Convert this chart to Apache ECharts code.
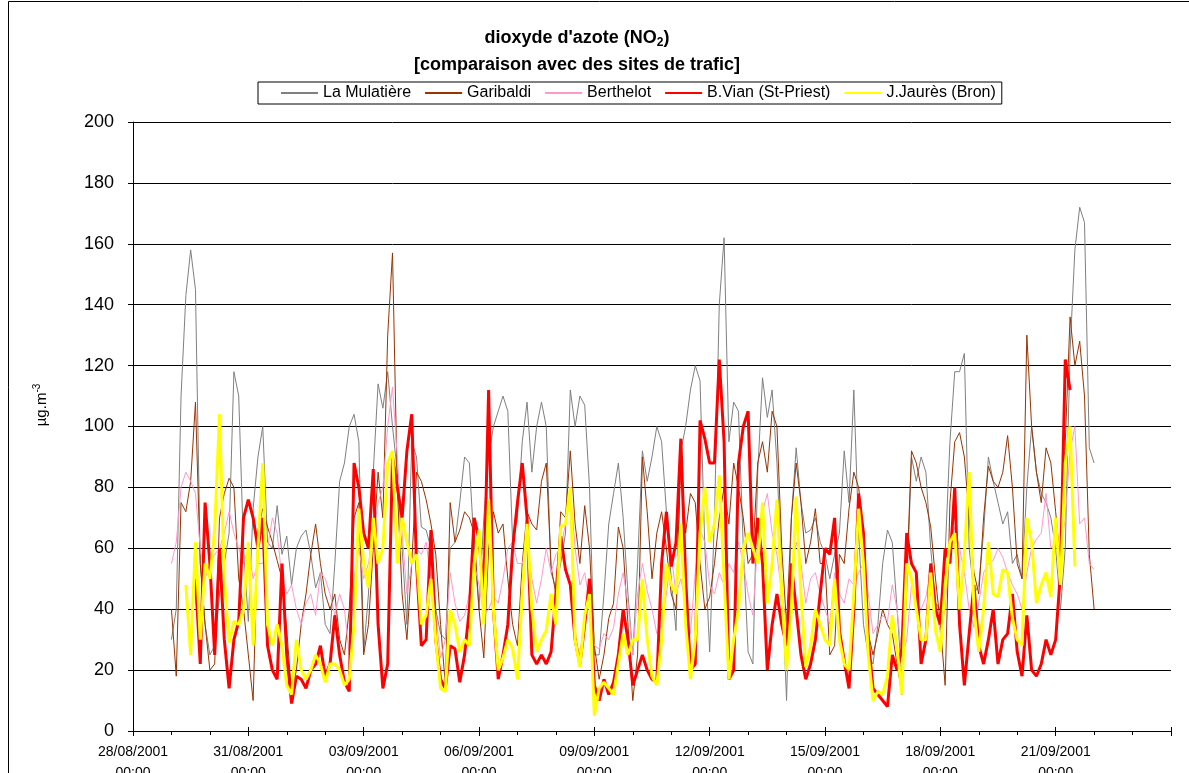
<!DOCTYPE html>
<html>
<head>
<meta charset="utf-8">
<script src="https://cdn.jsdelivr.net/npm/echarts@6/dist/echarts.min.js"></script>
<style>
  html, body { margin: 0; padding: 0; background: #fff; }
  #chart { width: 1189px; height: 773px; }
</style>
</head>
<body>
<div id="chart"></div>
<script>
// 3-hourly readings, first value on 29/08/2001 00:00 (x in hours after 28/08/2001 00:00)
const startHour = 24;
const stepHours = 3;

const tickLabels = ['28/08/2001', '31/08/2001', '03/09/2001', '06/09/2001', '09/09/2001',
  '12/09/2001', '15/09/2001', '18/09/2001', '21/09/2001'];
const seriesNames = ['La Mulatière', 'Garibaldi', 'Berthelot', 'B.Vian (St-Priest)', 'J.Jaurès (Bron)'];

const mulatiere = [
  30, 40, 110, 143, 158, 145, 55, 35, 25, 28, 45, 55, 65, 118, 110, 60, 36, 73, 90, 100,
  62, 60, 74, 58, 64, 48, 60, 64, 66, 58, 47, 52, 35, 32, 55, 82, 88, 100, 104,
  95, 26, 45, 85, 114, 106, 118, 100, 85, 60, 35, 95, 90, 67, 66, 60, 40, 32, 30, 60,
  62, 75, 90, 88, 60, 40, 70, 90, 100, 105, 110, 105, 62, 70, 95, 108, 85, 100, 108,
  100, 52, 47, 55, 65, 112, 100, 110, 107, 80, 25, 25, 45, 68, 78, 88, 70, 45, 25, 55,
  92, 82, 90, 100, 95, 72, 50, 33, 92, 100, 112, 120, 115, 60, 26, 70, 140, 162, 95, 108,
  105, 60, 26, 22, 85, 116, 103, 112, 88, 50, 10, 70, 93, 75, 65, 66, 70, 62, 58, 50,
  58, 65, 92, 75, 112, 65, 35, 25, 22, 35, 55, 66, 62, 40, 17, 45, 90, 82, 90, 85,
  60, 42, 40, 58, 95, 118, 118, 124, 60, 45, 48, 65, 90, 82, 75, 68, 72, 55, 58,
  50, 80, 100, 85, 78, 75, 70, 60, 40, 60, 125, 158, 172, 167, 93, 88
];
const garibaldi = [
  40, 18, 75, 72, 82, 108, 55, 35, 20, 22, 70, 78, 83, 80, 50, 40, 25, 10, 66,
  73, 67, 62, 56, 50, 33, 12, 20, 35, 45, 58, 68, 55, 45, 40, 45, 30, 25, 40, 70,
  75, 25, 35, 60, 85, 70, 130, 157, 80, 45, 30, 55, 85, 82, 76, 68, 58, 35, 15, 75,
  62, 66, 72, 70, 65, 40, 24, 60, 72, 65, 68, 50, 35, 28, 55, 72, 68, 66, 82,
  88, 54, 45, 72, 70, 92, 68, 55, 74, 60, 28, 17, 25, 37, 42, 67, 60, 35, 10, 25,
  90, 72, 50, 65, 72, 60, 45, 40, 90, 65, 78, 75, 55, 40, 44, 55, 70, 80, 68, 88,
  80, 70, 55, 58, 88, 95, 85, 105, 100, 60, 35, 70, 88, 75, 55, 62, 73, 55, 55, 25,
  28, 58, 55, 73, 85, 80, 65, 32, 25, 32, 40, 35, 32, 22, 12, 50, 92, 88, 80, 75,
  67, 50, 35, 15, 75, 95, 98, 90, 70, 52, 45, 70, 87, 82, 80, 85, 97, 80, 55,
  50, 130, 100, 85, 75, 93, 88, 72, 55, 95, 136, 120, 128, 110, 58, 40
];
const berthelot = [
  55, 62, 80, 85, 82, 78, 60, 50, 55, 58, 60, 65, 72, 65, 60, 55, 60, 50, 55,
  55, 60, 70, 65, 50, 45, 48, 40, 35, 42, 45, 38, 52, 50, 45, 38, 45, 40, 25, 50,
  60, 50, 55, 65, 75, 80, 100, 113, 90, 65, 45, 55, 60, 58, 62, 50, 38, 24, 30, 52,
  42, 36, 38, 45, 55, 48, 38, 40, 44, 42, 50, 60, 62, 55, 55, 62, 50, 42, 50,
  60, 52, 58, 60, 68, 80, 60, 48, 52, 42, 28, 27, 32, 30, 34, 45, 52, 42, 25, 45,
  55, 46, 40, 32, 35, 45, 58, 45, 50, 42, 32, 52, 66, 62, 48, 45, 52, 48, 55, 52,
  62, 55, 45, 38, 62, 72, 78, 65, 58, 45, 35, 52, 62, 55, 42, 50, 52, 45, 40, 35,
  52, 45, 42, 50, 48, 52, 55, 45, 32, 35, 38, 36, 48, 40, 24, 30, 48, 42, 40, 44,
  53, 42, 32, 40, 62, 67, 60, 52, 40, 34, 42, 52, 55, 56, 60, 57, 52, 48, 45,
  40, 52, 60, 63, 65, 78, 60, 62, 58, 70, 92, 100, 68, 70, 55, 53
];
const vian = [
  null, null, null, null, null, 50, 22, 75, 55, 25, 60, 30, 14, 30, 36, 70, 76, 70, 60,
  70, 28, 20, 17, 55, 25, 9, 18, 17, 14, 20, 22, 28, 18, 22, 38, 25, 16, 13, 88,
  80, 65, 60, 86, 35, 14, 22, 90, 80, 70, 92, 104, 55, 28, 30, 66, 30, 17, 14, 28,
  27, 16, 25, 40, 70, 63, 45, 112, 40, 17, 25, 35, 60, 75, 88, 70, 25, 22, 25,
  22, 26, 45, 64, 53, 48, 30, 22, 35, 50, 15, 10, 17, 12, 16, 25, 40, 30, 15, 20,
  25, 20, 17, 16, 55, 72, 54, 62, 96, 50, 20, 22, 102, 96, 88, 88, 122, 95, 17, 20,
  88, 100, 105, 55, 70, 55, 20, 35, 45, 35, 28, 55, 40, 25, 17, 22, 30, 45, 60, 58,
  70, 33, 23, 14, 40, 78, 65, 30, 14, 12, 10, 8, 25, 20, 27, 65, 55, 52, 22, 30,
  55, 40, 35, 60, 55, 80, 35, 15, 32, 48, 28, 22, 30, 40, 22, 30, 32, 45, 26,
  18, 38, 20, 18, 22, 30, 25, 30, 52, 122, 112, null, null, null, null, null
];
const jaures = [
  null, null, null, 48, 25, 62, 30, 55, 50, 66, 104, 50, 29, 36, 35, 40, 62, 28, 60,
  88, 35, 28, 35, 28, 15, 12, 30, 20, 17, 20, 25, 22, 16, 22, 22, 20, 15, 17, 35,
  73, 55, 47, 70, 55, 60, 88, 92, 55, 70, 62, 55, 58, 35, 38, 50, 30, 14, 13, 40,
  35, 26, 30, 28, 55, 66, 35, 76, 40, 20, 24, 30, 27, 17, 45, 68, 40, 26, 30,
  33, 45, 35, 67, 68, 80, 30, 21, 38, 45, 5, 14, 16, 14, 12, 22, 32, 25, 30, 30,
  50, 30, 18, 15, 30, 55, 48, 45, 68, 35, 17, 30, 65, 80, 62, 68, 84, 50, 17, 30,
  40, 60, 65, 60, 55, 75, 42, 55, 76, 45, 20, 40, 77, 45, 21, 28, 40, 35, 30, 28,
  50, 30, 22, 20, 45, 73, 55, 25, 10, 13, 12, 18, 38, 27, 12, 55, 50, 40, 30, 30,
  52, 33, 26, 48, 62, 65, 40, 58, 85, 40, 26, 40, 62, 45, 44, 53, 52, 37, 30,
  28, 70, 62, 42, 48, 52, 44, 70, 48, 88, 100, 54, null, null, null, null
];

const FONT = '"Liberation Sans", Arial, sans-serif';

function toPairs(values) {
  return values.map((v, k) => [startHour + k * stepHours, v]);
}

const chart = echarts.init(document.getElementById('chart'));

const lineStyles = [
  { color: '#808080', width: 1 },
  { color: '#993300', width: 1 },
  { color: '#FF99CC', width: 1 },
  { color: '#FF0000', width: 3 },
  { color: '#FFFF00', width: 3 }
];
const allValues = [mulatiere, garibaldi, berthelot, vian, jaures];

const option = {
  animation: false,
  backgroundColor: '#fff',
  textStyle: { fontFamily: FONT },
  graphic: [
    {
      type: 'rect',
      shape: { x: 8.5, y: 1.5, width: 1200, height: 800 },
      style: { fill: 'none', stroke: '#000', lineWidth: 1 },
      silent: true
    },
    {
      type: 'text',
      x: 577, y: 38,
      style: {
        text: "{t|dioxyde d'azote (NO}{s|2}{t|)}",
        align: 'center', verticalAlign: 'middle',
        rich: {
          t: { fontFamily: FONT, fontSize: 18, fontWeight: 'bold', fill: '#000', lineHeight: 22 },
          s: { fontFamily: FONT, fontSize: 12, fontWeight: 'bold', fill: '#000', lineHeight: 12, verticalAlign: 'bottom' }
        }
      }
    },
    {
      type: 'text',
      x: 577, y: 65,
      style: {
        text: '[comparaison avec des sites de trafic]',
        align: 'center', verticalAlign: 'middle',
        fontFamily: FONT, fontSize: 18, fontWeight: 'bold', fill: '#000'
      }
    },
    {
      type: 'text',
      x: 42, y: 405,
      rotation: Math.PI / 2,
      style: {
        text: '{a|µg.m}{s|-3}',
        align: 'center', verticalAlign: 'middle',
        rich: {
          a: { fontFamily: FONT, fontSize: 15, fill: '#000', lineHeight: 20 },
          s: { fontFamily: FONT, fontSize: 10, fill: '#000', lineHeight: 10, verticalAlign: 'top' }
        }
      }
    }
  ],
  legend: {
    left: 258,
    top: 82,
    padding: [3, 6, 3, 22],
    itemGap: 13,
    itemWidth: 37,
    itemHeight: 14,
    borderColor: '#000',
    borderWidth: 1,
    borderRadius: 0,
    itemStyle: { opacity: 0 },
    textStyle: { fontFamily: FONT, fontSize: 16, color: '#000' },
    data: seriesNames
  },
  grid: { left: 133, right: 18, top: 122, bottom: 42, containLabel: false, outerBoundsMode: 'none' },
  xAxis: [
    {
      type: 'value',
      min: 0,
      max: 648,
      interval: 72,
      axisLine: { lineStyle: { color: '#000', width: 1 } },
      axisTick: { show: true, length: 5, lineStyle: { color: '#000' } },
      minorTick: { show: true, splitNumber: 3, length: 4, lineStyle: { color: '#000' } },
      splitLine: { show: false },
      axisLabel: {
        margin: 11,
        fontFamily: FONT,
        fontSize: 14,
        color: '#000',
        lineHeight: 21,
        showMaxLabel: false,
        formatter: v => {
          const lab = tickLabels[Math.round(v / 72)];
          return lab ? lab + '\n00:00' : '';
        }
      }
    },
    {
      type: 'value',
      min: 0,
      max: 648,
      interval: 72,
      position: 'bottom',
      axisLine: { show: false },
      axisTick: { show: true, inside: true, length: 4, lineStyle: { color: '#000' } },
      axisLabel: { show: false },
      splitLine: { show: false }
    }
  ],
  yAxis: {
    type: 'value',
    min: 0,
    max: 200,
    interval: 20,
    axisLine: { show: true, lineStyle: { color: '#000', width: 1 } },
    axisTick: { show: true, length: 5, lineStyle: { color: '#000' } },
    axisLabel: { margin: 19, fontFamily: FONT, fontSize: 18, color: '#000' },
    splitLine: { show: true, lineStyle: { color: '#000', width: 1 } }
  },
  series: seriesNames.map((name, i) => ({
    name: name,
    type: 'line',
    xAxisIndex: 0,
    data: toPairs(allValues[i]),
    symbol: 'none',
    showSymbol: false,
    connectNulls: false,
    lineStyle: lineStyles[i],
    itemStyle: { color: lineStyles[i].color },
    z: 2 + i
  }))
};

chart.setOption(option);
</script>
</body>
</html>
